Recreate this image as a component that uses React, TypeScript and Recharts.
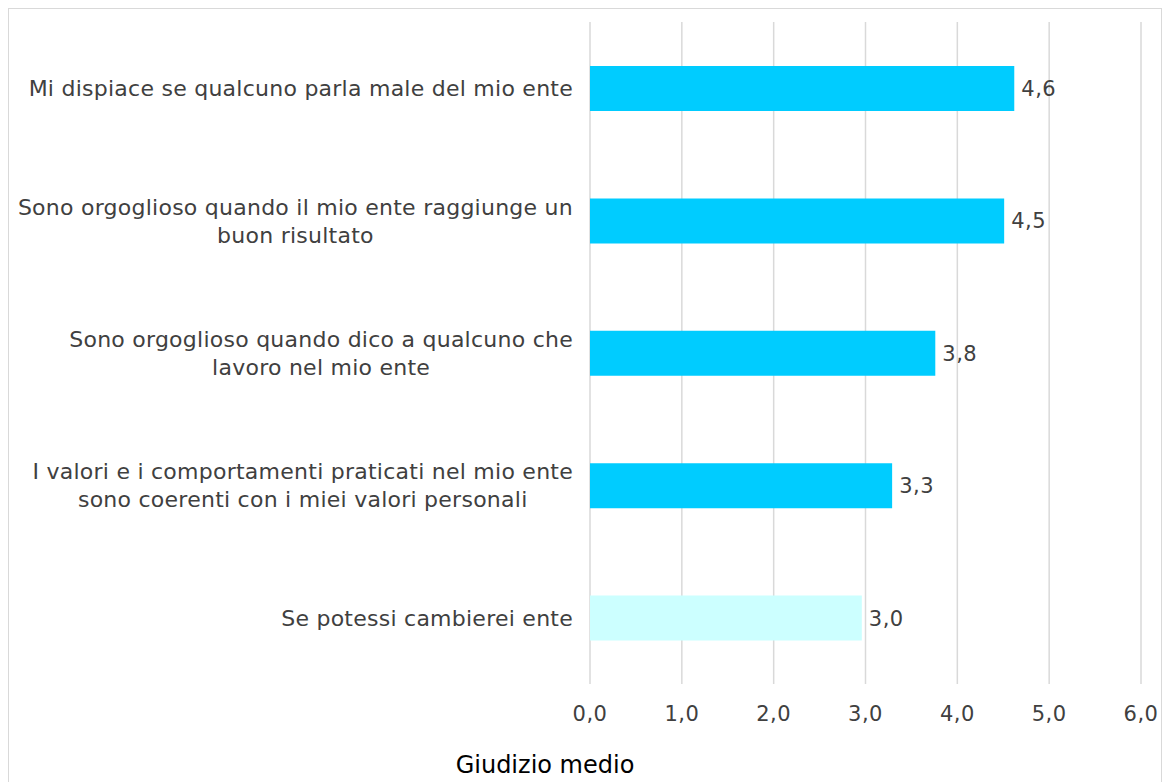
import { BarChart, Bar, XAxis, YAxis, CartesianGrid, Cell, LabelList } from "recharts";

const categories = [
  "Mi dispiace se qualcuno parla male del mio ente",
  "Sono orgoglioso quando il mio ente raggiunge un\nbuon risultato",
  "Sono orgoglioso quando dico a qualcuno che\nlavoro nel mio ente",
  "I valori e i comportamenti praticati nel mio ente\nsono coerenti con i miei valori personali",
  "Se potessi cambierei ente",
];
const values = [4.62, 4.51, 3.76, 3.29, 2.96];
const barColors = ["#00CCFF", "#00CCFF", "#00CCFF", "#00CCFF", "#CCFFFF"];
const xTicks = [0, 1, 2, 3, 4, 5, 6];
const axisTitle = "Giudizio medio";

const data = categories.map((name, i) => ({ name, value: values[i] }));

const FONT = "DejaVu Sans";
const TEXT = "#404040";
const FS = 22;
const LS = 0.25;
const fmt = (v: number) => v.toFixed(1).replace(".", ",");

let ctx: CanvasRenderingContext2D | null = null;
const measure = (s: string) => {
  if (!ctx) ctx = document.createElement("canvas").getContext("2d");
  if (!ctx) return s.length * 11.5;
  ctx.font = `${FS}px "${FONT}"`;
  return ctx.measureText(s).width + s.length * LS;
};

const CategoryTick = (props: any) => {
  const { x, y, payload } = props;
  const lines: string[] = String(payload.value).split("\n");
  const w = Math.max(...lines.map(measure));
  const cx = x - w / 2;
  const lh = 28;
  const y0 = y - ((lines.length - 1) * lh) / 2;
  return (
    <g>
      {lines.map((l, i) => (
        <text
          key={i}
          x={cx}
          y={y0 + i * lh}
          dy="0.36em"
          textAnchor="middle"
          fill={TEXT}
          fontSize={FS}
          fontFamily={FONT}
          letterSpacing={LS}
        >
          {l}
        </text>
      ))}
    </g>
  );
};

const AxisTitle = (props: any) => {
  const { viewBox } = props;
  return (
    <text
      x={viewBox.x - 45}
      y={viewBox.y + 89}
      textAnchor="middle"
      fill="#000"
      fontSize={24}
      fontFamily={FONT}
    >
      {axisTitle}
    </text>
  );
};

export default function App() {
  // fixed so the box can run past the viewport edge like the reference, without scrollbars
  return (
    <div style={{ position: "fixed", left: 8, top: 8, width: 1154, height: 774, overflow: "hidden" }}>
      <div
        style={{
          width: 1152,
          height: 775,
          border: "1px solid #d9d9d9",
          background: "#fff",
          fontFamily: FONT,
        }}
      >
        <BarChart
          width={1152}
          height={775}
          data={data}
          layout="vertical"
          margin={{ top: 13, right: 20, left: 0, bottom: 0 }}
        >
          <CartesianGrid horizontal={false} stroke="#d9d9d9" strokeWidth={1.5} />
          <XAxis
            type="number"
            domain={[0, 6]}
            ticks={xTicks}
            tickFormatter={fmt}
            axisLine={false}
            tickLine={false}
            tickSize={6}
            tickMargin={16}
            height={100}
            tick={{ fill: TEXT, fontSize: 21, fontFamily: FONT, letterSpacing: 0.5 }}
            interval={0}
            label={<AxisTitle />}
          />
          <YAxis
            type="category"
            dataKey="name"
            width={581}
            axisLine={false}
            tickLine={false}
            tickSize={0}
            tickMargin={17}
            interval={0}
            tick={<CategoryTick />}
          />
          <Bar dataKey="value" barSize={45} isAnimationActive={false}>
            {data.map((d, i) => (
              <Cell key={d.name} fill={barColors[i]} />
            ))}
            <LabelList
              dataKey="value"
              position="right"
              offset={7}
              formatter={(v: any) => fmt(Number(v))}
              fill={TEXT}
              fontSize={21}
              fontFamily={FONT}
              letterSpacing={0.5}
            />
          </Bar>
        </BarChart>
      </div>
    </div>
  );
}
